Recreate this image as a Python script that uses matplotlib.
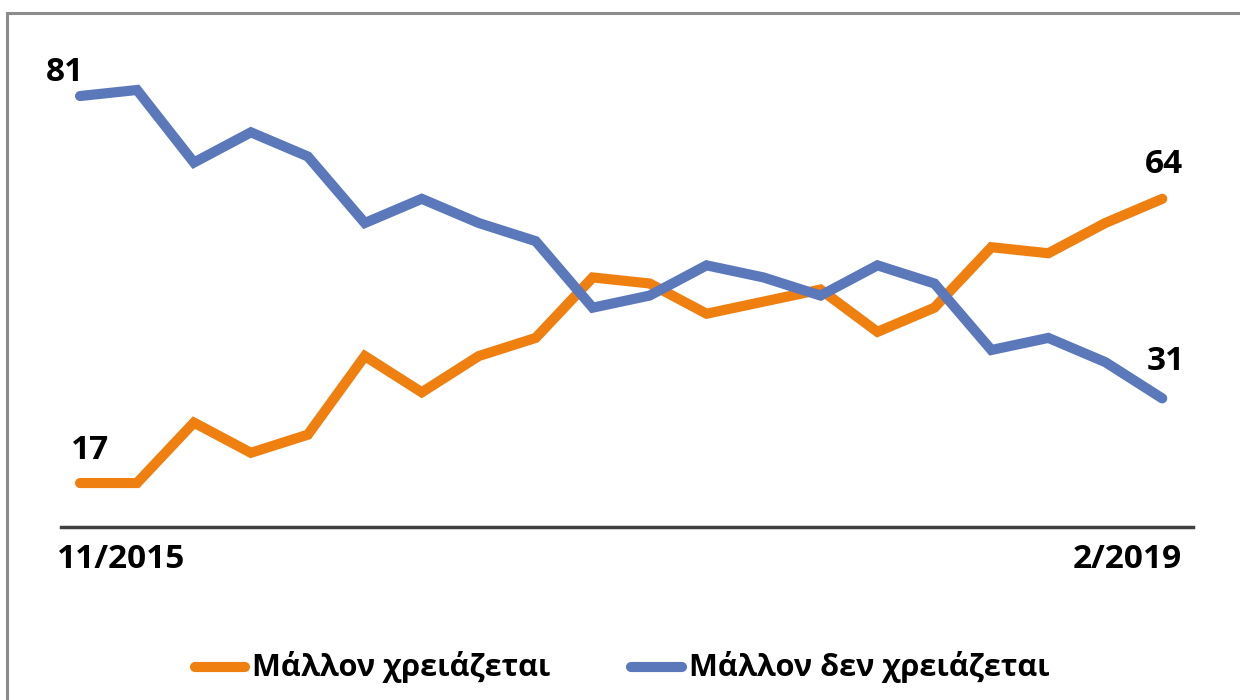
import matplotlib.pyplot as plt
from matplotlib.lines import Line2D
from matplotlib.patches import Rectangle

plt.rcParams['font.family'] = ['Open Sans', 'DejaVu Sans']

# survey waves 11/2015 .. 2/2019
waves = list(range(20))
needed = [17, 17, 27, 22, 25, 38, 32, 38, 41, 51, 50, 45, 47, 49, 42, 46, 56, 55, 60, 64]
not_needed = [81, 82, 70, 75, 71, 60, 64, 60, 57, 46, 48, 53, 51, 48, 53, 50, 39, 41, 37, 31]
series_names = ['Μάλλον χρειάζεται', 'Μάλλον δεν χρειάζεται']
first_label, last_label = '11/2015', '2/2019'

orange = '#EF7F0F'
blue = '#5B78BA'

W, H = 1240, 700
fig = plt.figure(figsize=(W / 100, H / 100), dpi=100)

# outer frame (only left and top edges are visible in the original)
fig.patches.append(Rectangle((7 / W, -0.1), 1.2, (H - 13) / H + 0.1, transform=fig.transFigure,
                             fill=False, edgecolor='#8c8c8c', linewidth=2.2))

ax = fig.add_axes([61 / W, 1 - 527 / H, (1193 - 61) / W, (527 - 13) / H])
ax.set_xlim(-0.334, 19.54)
ax.set_ylim(9.73, 94.73)

kw = dict(linewidth=7.3, solid_capstyle='round', solid_joinstyle='miter')
ax.plot(waves, needed, color=orange, **kw)
ax.plot(waves, not_needed, color=blue, **kw)

for s in ['top', 'right', 'left']:
    ax.spines[s].set_visible(False)
ax.spines['bottom'].set_color('#404040')
ax.spines['bottom'].set_linewidth(2.5)
ax.set_xticks([])
ax.set_yticks([])
ax.patch.set_alpha(0)

lab = dict(fontsize=24, fontweight='bold', ha='center', va='center', textcoords='offset pixels')
ax.annotate(str(not_needed[0]), (waves[0], not_needed[0]), xytext=(-15, 24), **lab)
ax.annotate(str(needed[0]), (waves[0], needed[0]), xytext=(10, 33), **lab)
ax.annotate(str(needed[-1]), (waves[-1], needed[-1]), xytext=(2, 34), **lab)
ax.annotate(str(not_needed[-1]), (waves[-1], not_needed[-1]), xytext=(4, 37), **lab)

fig.text(121 / W, 1 - 560 / H, first_label, fontsize=24, fontweight='bold', ha='center', va='center')
fig.text(1127 / W, 1 - 560 / H, last_label, fontsize=24, fontweight='bold', ha='center', va='center')

# legend drawn by hand so the bold face is used
ly = 1 - 667 / H
for (x0, x1), color, name in zip([(190, 250), (626, 687)], [orange, blue], series_names):
    fig.add_artist(Line2D([(x0 + 5) / W, (x1 - 5) / W], [ly, ly], transform=fig.transFigure,
                          color=color, linewidth=7.3, solid_capstyle='round'))
    fig.text((x1 + 2) / W, ly, name, fontsize=22.1, fontweight='bold', ha='left', va='center')

fig.savefig('out.png', dpi=100)
